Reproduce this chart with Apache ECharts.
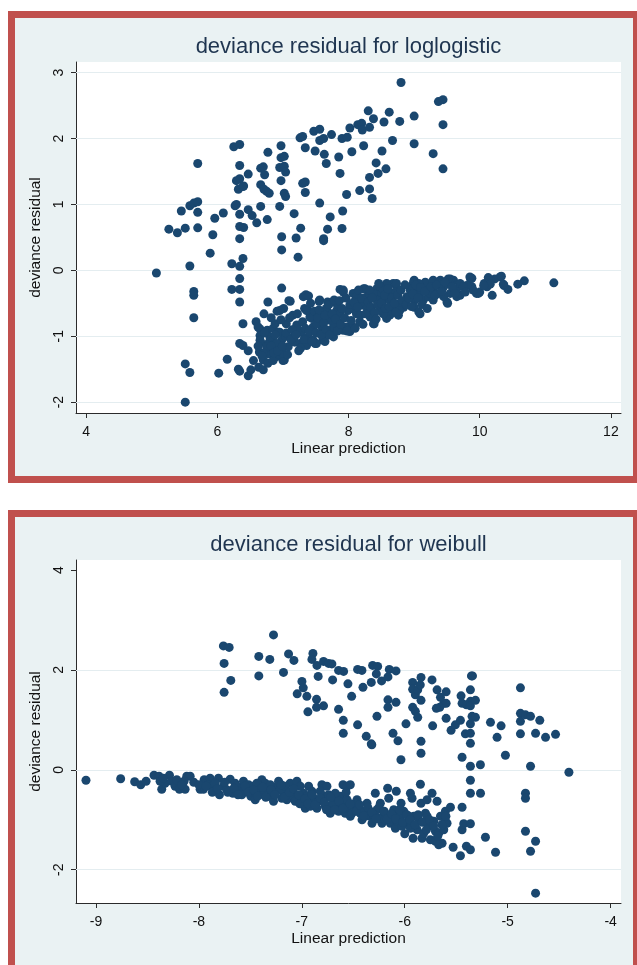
<!DOCTYPE html>
<html><head><meta charset="utf-8">
<script src="https://cdn.jsdelivr.net/npm/echarts@6/dist/echarts.min.js"></script>
<style>
html,body{margin:0;padding:0;width:637px;height:965px;overflow:hidden;background:#fff;}
.frame{position:absolute;box-sizing:border-box;border:7px solid #C0504D;background:#EAF2F3;}
#chart{position:absolute;left:0;top:0;width:637px;height:965px;}
</style></head><body>
<div class="frame" style="left:8px;top:11px;width:632px;height:472px"></div>
<div class="frame" style="left:8px;top:510px;width:632px;height:470px"></div>
<div id="chart"></div>
<script>
// ---------- data ----------
var topTitle = 'deviance residual for loglogistic';
var bottomTitle = 'deviance residual for weibull';
var xName = 'Linear prediction';
var yName = 'deviance residual';

var topXTicks = [4, 6, 8, 10, 12];
var topYTicks = [-2, -1, 0, 1, 2, 3];
var topGridY = [-2, -1, 0, 1, 2, 3];
var bottomXTicks = [-9, -8, -7, -6, -5, -4];
var bottomYTicks = [-2, 0, 2, 4];
var bottomGridY = [-2, 0, 2];

// loglogistic: scattered upper cloud and isolated points
var loglogUpper = [
[5.07,-0.04],[5.26,0.625],[5.39,0.57],[5.45,0.90],[5.51,0.64],[5.58,0.98],[5.64,1.02],[5.70,1.04],[5.70,0.88],[5.70,0.645],
[5.70,1.62],[5.58,0.065],[5.64,-0.32],[5.64,-0.38],[5.64,-0.72],[5.51,-1.42],[5.58,-1.55],[5.51,-2.0],[5.89,0.26],[5.93,0.54],
[5.96,0.79],[6.09,0.87],[6.15,-1.35],[6.02,-1.56],[6.22,0.10],[6.22,-0.29],[6.27,0.98],[6.29,1.0],[6.25,1.875],[6.34,1.91],
[6.29,1.36],[6.34,1.39],[6.34,1.59],[6.32,1.23],[6.39,1.27],[6.40,1.28],[6.34,0.85],[6.34,0.665],[6.40,0.65],[6.34,0.48],
[6.39,0.18],[6.34,0.06],[6.34,-0.125],[6.34,-0.29],[6.34,-0.48],[6.39,-0.81],[6.34,-1.11],[6.39,-1.14],[6.47,-1.22],[6.32,-1.50],
[6.34,-1.53],[6.47,-1.60],[6.51,-1.51],[6.47,1.46],[6.47,0.92],[6.53,0.83],[6.60,0.72],[6.66,0.97],[6.66,1.55],[6.70,1.57],
[6.72,1.45],[6.66,1.30],[6.71,1.23],[6.75,1.20],[6.79,1.17],[6.77,1.79],[6.76,0.77],[6.97,1.89],[6.97,1.71],[7.02,1.73],
[6.95,1.56],[7.02,1.58],[7.04,1.49],[6.97,1.36],[7.02,1.17],[7.04,1.12],[6.95,0.97],[6.98,0.51],[6.98,0.31],[6.98,-0.27],
[7.17,0.86],[7.20,0.49],[7.27,0.64],[7.23,0.20],[7.26,2.01],[7.30,2.03],[7.34,1.86],[7.30,1.32],[7.34,1.34],[7.34,1.18],
[7.47,2.11],[7.56,2.14],[7.49,1.81],[7.56,1.97],[7.63,1.76],[7.66,1.62],[7.62,2.00],[7.74,2.06],[7.56,1.02],[7.72,0.81],
[7.68,0.625],[7.62,0.48],[7.62,0.45],[7.85,1.72],[7.87,1.47],[7.90,2.00],[7.98,2.02],[7.91,0.90],[7.90,0.635],[7.97,1.15],
[8.02,2.16],[8.05,1.80],[8.14,2.21],[8.20,2.23],[8.21,2.13],[8.30,2.42],[8.32,2.17],[8.38,2.30],[8.23,1.89],[8.17,1.21],
[8.32,1.235],[8.32,1.41],[8.36,1.09],[8.42,1.63],[8.45,1.47],[8.51,1.81],[8.54,2.25],[8.62,2.40],[8.57,1.54],[8.67,1.97],
[8.78,2.26],[8.80,2.85],[9.00,2.34],[9.00,1.92],[9.29,1.77],[9.37,2.56],[9.44,2.59],[9.44,2.21],[9.44,1.54]
];
// loglogistic: dense lower band
var loglogBand = [
[6.63,-1.47],[6.70,-1.51],[6.77,-0.48],[6.71,-0.66],[6.59,-0.78],[6.65,-0.89],[6.65,-0.99],[6.66,-1.09],[6.64,-1.24],[6.70,-1.36],
[6.76,-0.91],[6.79,-1.09],[6.76,-1.21],[6.79,-1.27],[6.85,-0.88],[6.88,-0.81],[6.91,-0.62],[7.01,-0.58],[6.84,-1.02],[6.95,-0.94],
[6.98,-1.06],[6.95,-1.19],[6.90,-1.31],[7.00,-1.37],[7.08,-1.16],[7.04,-1.00],[7.11,-0.47],[7.15,-0.68],[7.21,-0.83],[7.28,-0.94],
[7.26,-1.11],[7.18,-1.09],[7.31,-0.40],[7.35,-0.37],[7.33,-0.58],[7.38,-0.61],[7.44,-0.73],[7.46,-0.86],[7.38,-1.01],[7.36,-1.14],
[7.55,-0.47],[7.56,-0.71],[7.59,-0.86],[7.61,-1.06],[7.51,-1.11],[7.66,-0.58],[7.69,-0.73],[7.74,-0.91],[7.77,-1.01],[7.87,-0.29],
[7.92,-0.33],[7.82,-0.61],[7.84,-0.78],[7.92,-0.91],[7.97,-0.86],[8.07,-0.35],[8.12,-0.40],[8.05,-0.58],[8.12,-0.66],[8.17,-0.78],
[8.07,-0.86],[8.25,-0.28],[8.28,-0.40],[8.23,-0.53],[8.30,-0.61],[8.35,-0.71],[8.38,-0.81],[8.43,-0.28],[8.48,-0.35],[8.53,-0.45],
[8.58,-0.23],[8.63,-0.35],[8.68,-0.20],[8.73,-0.30],[8.61,-0.66],[8.68,-0.61],[8.73,-0.56],
[11.13,-0.19],[10.68,-0.16],[10.58,-0.21],[10.43,-0.29],[10.37,-0.23],[10.31,-0.10],[10.23,-0.13],[10.16,-0.15],[10.19,-0.38],[10.11,-0.25],
[10.07,-0.20],[10.00,-0.33],[9.95,-0.35],[9.88,-0.25],[9.86,-0.13],[9.70,-0.38],[9.65,-0.28],[9.60,-0.15],[9.55,-0.13],[9.50,-0.20],
[9.45,-0.25],[9.50,-0.48],[9.37,-0.35],[9.29,-0.30],[9.19,-0.23],[9.17,-0.18],[9.29,-0.15],[9.40,-0.23],[9.00,-0.15],[8.94,-0.25],
[9.04,-0.30],[9.09,-0.35],[9.01,-0.45],[8.89,-0.40],[8.84,-0.56],[8.76,-0.51],[8.63,-0.68],[8.58,-0.73],[8.53,-0.66],[8.73,-0.20],
[8.58,-0.20],[8.48,-0.25],[9.00,-0.56],[9.09,-0.66],[9.14,-0.45],[9.22,-0.40],[9.29,-0.45],[9.55,-0.35],[9.65,-0.40],
[9.88,-0.12],[10.13,-0.11],[10.33,-0.09],[6.77,-1.41],[7.02,-1.36],[7.27,-1.18],[7.49,-1.11],[7.64,-1.08],[8.02,-0.93],[8.39,-0.81],
[8.76,-0.68],[9.07,-0.63],[9.51,-0.50],
[10.36,-0.21],[10.16,-0.21],[10.06,-0.23],[9.98,-0.35],[9.90,-0.30],[9.85,-0.10],[9.80,-0.23],[9.70,-0.20],[9.52,-0.13],[9.45,-0.40],
[9.40,-0.15],[9.24,-0.35],[9.07,-0.20],[8.99,-0.18],[8.94,-0.30],[8.78,-0.61],[8.68,-0.35],[8.63,-0.45],[8.53,-0.30],[8.48,-0.61],
[8.43,-0.45],[8.38,-0.35],[8.33,-0.71],[8.28,-0.56],[8.23,-0.28],[8.17,-0.51],[7.99,-0.61],[7.92,-0.30],[7.87,-0.66],[7.82,-0.51],
[7.77,-0.86],[7.72,-0.76],[7.67,-0.61],[7.61,-0.96],[7.56,-0.45],[7.51,-0.81],[7.46,-1.06],[7.41,-0.71],[7.36,-0.61],[7.21,-0.86],
[7.16,-1.01],[7.05,-0.81],[7.00,-1.26],[6.95,-0.61],[6.93,-0.94],[6.90,-1.11],[6.85,-1.37],[6.80,-1.01],[6.75,-1.16],[6.70,-1.26],
[6.65,-1.06],[6.62,-0.86],[6.55,-1.37],[7.68,-0.48],[7.39,-0.39],[7.09,-0.46],
[6.62,-1.15],[6.68,-1.30],[6.72,-0.95],[6.82,-1.15],[6.86,-1.25],[6.88,-0.98],[6.92,-1.22],[6.97,-0.75],[6.99,-1.15],[6.82,-0.72],
[7.05,-0.95],[7.07,-1.28],[7.10,-0.72],[7.12,-1.05],[7.14,-0.90],[7.20,-0.98],[7.22,-0.66],[7.24,-1.22],[7.30,-0.78],[7.32,-1.05],
[7.34,-0.88],[7.40,-0.92],[7.42,-0.50],[7.44,-1.08],[7.48,-0.62],[7.50,-0.95],
[7.53,-0.72],[7.55,-0.60],[7.58,-0.98],[7.62,-0.80],[7.64,-0.68],[7.66,-0.90],[7.70,-0.52],[7.71,-0.98],[7.75,-0.66],[7.78,-0.45],
[7.80,-0.74],[7.83,-0.92],[7.86,-0.46],[7.88,-0.82],[7.90,-0.58],[7.94,-0.72],[7.96,-0.42],[7.98,-0.92],
[8.02,-0.52],[8.04,-0.76],[8.08,-0.48],[8.10,-0.88],[8.14,-0.56],[8.15,-0.30],[8.18,-0.68],[8.20,-0.42],[8.22,-0.82],[8.26,-0.66],
[8.30,-0.48],[8.32,-0.30],[8.34,-0.56],[8.36,-0.42],[8.40,-0.64],[8.42,-0.74],[8.44,-0.52],[8.46,-0.20],
[8.50,-0.50],[8.55,-0.38],[8.56,-0.58],[8.60,-0.28],[8.62,-0.55],[8.66,-0.42],[8.70,-0.50],[8.72,-0.64],[8.75,-0.38],[8.80,-0.30],
[8.82,-0.46],[8.86,-0.22],[8.88,-0.52],[8.92,-0.42],[8.96,-0.55],[8.98,-0.36],
[9.02,-0.22],[9.06,-0.42],[9.10,-0.26],[9.12,-0.52],[9.16,-0.32],[9.20,-0.58],[9.26,-0.25],[9.32,-0.38],[9.34,-0.22],[9.42,-0.32],
[9.47,-0.18],[9.58,-0.25],[9.62,-0.35],[9.75,-0.25],[9.78,-0.33]
];

// weibull: scattered upper cloud and isolated points
var weibullUpper = [
[-7.275,2.70],[-7.762,2.48],[-7.706,2.45],[-7.755,2.13],[-7.690,1.79],[-7.755,1.55],[-7.418,2.27],[-7.418,1.88],[-7.311,2.21],[-7.178,1.95],
[-7.129,2.32],[-7.077,2.19],[-6.999,1.77],[-6.986,1.64],[-7.045,1.52],[-6.951,1.47],[-6.941,1.16],[-6.857,1.41],[-6.857,1.25],[-6.789,1.28],
[-6.892,2.33],[-6.902,2.21],[-6.853,2.09],[-6.789,2.17],[-6.740,2.13],[-6.708,2.12],[-6.841,1.87],[-6.701,1.80],[-6.643,1.99],[-6.594,1.97],
[-6.552,1.72],[-6.643,1.21],[-6.597,0.99],[-6.597,0.73],[-6.516,1.47],[-6.458,2.01],[-6.416,1.99],[-6.406,1.65],[-6.458,0.90],[-6.374,0.67],
[-6.325,0.52],[-6.320,0.50],[-6.325,1.75],[-6.270,1.07],[-6.312,2.09],[-6.263,2.07],[-6.276,1.92],[-6.225,1.78],[-6.163,1.86],[-6.150,2.01],
[-6.085,1.98],[-6.163,1.40],[-6.163,1.25],[-6.085,1.35],[-6.114,0.73],[-6.066,0.58],[-6.037,0.20],[-5.988,0.92],[-5.923,1.75],[-5.923,1.61],
[-5.897,1.50],[-5.874,1.60],[-5.849,1.70],[-5.842,1.85],[-5.842,1.39],[-5.923,1.25],[-5.897,1.17],[-5.874,1.05],[-5.842,0.57],[-5.842,0.33],
[-5.735,1.80],[-5.686,1.60],[-5.598,1.56],[-5.653,1.45],[-5.621,1.33],[-5.598,1.33],[-5.660,1.25],[-5.693,1.23],[-5.598,1.03],[-5.729,0.88],
[-5.550,0.79],[-5.508,0.90],[-5.459,0.99],[-5.453,1.48],[-5.443,1.33],[-5.401,1.30],[-5.362,1.37],[-5.362,1.28],[-5.362,1.60],[-5.352,1.88],
[-5.342,1.88],[-5.313,1.39],[-5.346,1.07],[-5.313,1.05],[-5.362,0.92],[-5.411,0.72],[-5.362,0.73],[-5.362,0.53],[-5.443,0.25],[-5.362,0.07],
[-5.265,0.10],[-5.167,0.95],[-5.064,0.88],[-5.103,0.65],[-5.022,0.29],[-4.876,1.64],[-4.876,1.13],[-4.876,0.97],[-4.876,0.72],[-4.827,1.10],
[-4.778,1.07],[-4.729,0.73],[-4.688,0.99],[-4.632,0.65],[-4.535,0.71],[-4.778,0.07],[-4.405,-0.05]
];
// weibull: dense lower band
var weibullBand = [
[-9.097,-0.21],[-8.760,-0.18],[-8.624,-0.24],[-8.565,-0.30],[-8.513,-0.23],[-8.436,-0.11],[-8.387,-0.13],[-8.361,-0.39],[-8.329,-0.27],[-8.286,-0.11],
[-8.264,-0.23],[-8.231,-0.33],[-8.189,-0.39],[-8.134,-0.39],[-8.118,-0.13],[-8.085,-0.13],[-8.144,-0.23],[-8.377,-0.23],[-8.215,-0.20],[-8.167,-0.30],
[-8.345,-0.17],[-7.988,-0.39],[-7.956,-0.39],[-7.949,-0.20],[-7.891,-0.17],[-7.858,-0.39],[-7.810,-0.17],[-7.800,-0.50],[-7.761,-0.33],[-7.696,-0.19],
[-7.670,-0.47],[-7.648,-0.27],[-7.599,-0.37],[-7.567,-0.23],[-7.534,-0.43],[-7.495,-0.53],[-7.469,-0.33],[-7.453,-0.60],[-7.421,-0.47],[-7.388,-0.20],
[-7.356,-0.27],[-7.340,-0.40],[-7.323,-0.53],[-7.275,-0.63],[-7.242,-0.33],[-7.226,-0.23],[-7.177,-0.47],[-7.145,-0.60],[-7.113,-0.27],[-7.080,-0.53],
[-7.048,-0.23],[-7.015,-0.33],[-6.983,-0.47],[-6.967,-0.77],[-6.934,-0.33],[-6.886,-0.57],[-6.853,-0.77],[-6.805,-0.30],[-6.788,-0.53],[-6.756,-0.33],
[-6.724,-0.87],[-6.691,-0.60],[-6.659,-0.73],[-6.626,-0.53],[-6.600,-0.30],[-6.561,-0.33],[-6.529,-0.30],[-6.578,-0.87],[-6.529,-0.93],[-6.497,-0.73],
[-6.464,-0.60],[-6.432,-0.87],[-6.415,-1.00],[-6.367,-0.67],[-6.334,-0.93],[-6.318,-1.07],[-6.286,-0.47],[-6.270,-0.80],[-6.237,-0.67],[-6.221,-1.07],
[-6.205,-0.90],[-6.166,-0.37],[-6.156,-0.57],[-6.140,-1.07],[-6.107,-0.80],[-6.091,-1.17],[-6.082,-0.43],[-6.059,-0.93],[-6.036,-0.67],[-6.010,-0.83],
[-6.000,-1.28],[-5.978,-1.07],[-5.945,-0.47],[-5.929,-0.57],[-5.913,-0.93],[-5.919,-1.37],[-5.880,-1.20],[-5.848,-0.29],[-5.842,-0.67],[-5.832,-1.37],
[-5.799,-0.87],[-5.783,-0.60],[-5.767,-1.13],[-5.735,-0.47],[-5.718,-1.03],[-5.702,-1.23],[-5.686,-0.63],[-5.670,-1.50],[-5.653,-0.93],[-5.637,-1.47],
[-5.605,-0.83],[-5.589,-1.07],[-5.556,-0.75],[-5.530,-1.55],[-5.459,-1.72],[-5.443,-0.75],[-5.443,-1.20],[-5.427,-1.08],[-5.362,-1.08],[-5.401,-1.53],
[-5.362,-1.60],[-5.362,-0.47],[-5.362,-0.21],[-5.264,-0.47],[-5.216,-1.35],[-5.118,-1.65],[-4.827,-0.47],[-4.827,-0.57],[-4.827,-1.23],[-4.778,-1.63],
[-4.729,-1.43],[-4.729,-2.47],
[-7.907,-0.30],[-7.842,-0.27],[-7.729,-0.40],[-7.632,-0.33],[-7.583,-0.50],[-7.518,-0.30],[-7.437,-0.27],[-7.405,-0.40],[-7.372,-0.50],[-7.307,-0.30],
[-7.291,-0.43],[-7.210,-0.40],[-7.194,-0.57],[-7.161,-0.33],[-7.096,-0.43],[-7.064,-0.63],[-7.000,-0.60],[-6.951,-0.53],[-6.918,-0.73],[-6.902,-0.43],
[-6.837,-0.63],[-6.821,-0.43],[-6.772,-0.73],[-6.740,-0.50],[-6.707,-0.70],[-6.675,-0.47],[-6.643,-0.83],[-6.610,-0.67],[-6.561,-0.60],[-6.545,-0.77],
[-6.513,-0.87],[-6.480,-0.67],[-6.448,-0.77],[-6.399,-0.83],[-6.383,-0.93],[-6.351,-0.80],[-6.302,-0.90],[-6.253,-0.97],[-6.189,-1.00],[-6.124,-0.93],
[-6.075,-1.03],[-6.043,-0.93],[-6.026,-1.13],[-5.961,-0.93],[-5.945,-1.17],[-5.864,-1.00],[-5.816,-1.27],[-5.783,-0.93],[-5.751,-1.40],[-5.670,-1.27],
[-5.621,-1.20],[-5.605,-1.03],[-5.702,-1.43],
[-8.05,-0.25],[-8.00,-0.30],[-7.93,-0.33],[-7.87,-0.45],[-7.82,-0.38],[-7.75,-0.25],[-7.72,-0.45],[-7.66,-0.37],[-7.62,-0.50],[-7.55,-0.33],
[-7.52,-0.45],[-7.47,-0.40],[-7.43,-0.53],[-7.38,-0.35],[-7.35,-0.55],[-7.30,-0.40],[-7.26,-0.50],[-7.20,-0.30],[-7.17,-0.55],[-7.12,-0.45],
[-7.08,-0.38],[-7.03,-0.50],[-7.02,-0.68],[-6.97,-0.58],[-6.94,-0.68],[-6.90,-0.50],[-6.87,-0.70],[-6.82,-0.57],[-6.78,-0.65],[-6.76,-0.80],
[-6.72,-0.55],[-6.68,-0.80],[-6.64,-0.63],[-6.60,-0.77],[-6.57,-0.45],[-6.53,-0.68],[-6.47,-0.83],[-6.44,-0.70],[-6.40,-0.92],[-6.36,-0.75],
[-6.32,-0.85],[-6.28,-0.98],[-6.25,-0.75],[-6.20,-0.83],[-6.17,-0.98],[-6.13,-0.88],[-6.09,-0.98],[-6.05,-0.80],[-6.02,-1.05],[-5.98,-0.90],
[-5.95,-1.00],[-5.90,-1.10],[-5.87,-0.90],[-5.83,-1.05],[-5.79,-1.20],[-5.76,-1.00],[-5.72,-1.12],[-5.68,-1.33],[-5.64,-1.10],[-5.60,-0.93]
];

// ---------- chart ----------
var FONT = '"Liberation Sans", Arial, Helvetica, sans-serif';
var DOT = '#1a476f';
var AXIS = '#2b2b2b';
var GRIDC = '#E4EDF0';

function xAxisCfg(gi, min, max, ticks) {
  return {
    type: 'value', gridIndex: gi, min: min, max: max,
    axisLine: { show: true, onZero: false, lineStyle: { color: AXIS, width: 1 } },
    axisTick: { show: true, customValues: ticks, length: 5, lineStyle: { color: AXIS } },
    axisLabel: { customValues: ticks, fontSize: 14, fontFamily: FONT, color: '#111', margin: 12 },
    splitLine: { show: false },
    name: xName, nameLocation: 'middle', nameGap: 28,
    nameTextStyle: { fontSize: 15.5, fontFamily: FONT, color: '#111' }
  };
}
function yAxisCfg(gi, min, max, ticks) {
  return {
    type: 'value', gridIndex: gi, min: min, max: max,
    axisLine: { show: true, onZero: false, lineStyle: { color: AXIS, width: 1 } },
    axisTick: { show: true, customValues: ticks, length: 5, lineStyle: { color: AXIS } },
    axisLabel: { customValues: ticks, fontSize: 14, fontFamily: FONT, color: '#111', rotate: 90, margin: 10 },
    splitLine: { show: false },
    name: yName, nameLocation: 'middle', nameGap: 28,
    nameTextStyle: { fontSize: 15.5, fontFamily: FONT, color: '#111' }
  };
}
function gridLines(xi, vals) {
  return {
    type: 'scatter', xAxisIndex: xi, yAxisIndex: xi, data: [], z: 1, silent: true,
    markLine: {
      z: 1, silent: true, symbol: ['none', 'none'], label: { show: false },
      lineStyle: { color: GRIDC, width: 1.2, type: 'solid' },
      emphasis: { disabled: true },
      data: vals.map(function (v) { return { yAxis: v }; })
    }
  };
}
function dots(xi, data) {
  return {
    type: 'scatter', xAxisIndex: xi, yAxisIndex: xi, data: data, z: 6,
    symbol: 'circle', symbolSize: 9,
    itemStyle: { color: DOT, opacity: 1 }, silent: true
  };
}

var chart = echarts.init(document.getElementById('chart'), null, { renderer: 'canvas' });
chart.setOption({
  animation: false,
  backgroundColor: 'transparent',
  textStyle: { fontFamily: FONT },
  grid: [
    { left: 76, top: 62, width: 545, height: 351, show: true, backgroundColor: '#ffffff', borderWidth: 0 },
    { left: 76, top: 560, width: 545, height: 343, show: true, backgroundColor: '#ffffff', borderWidth: 0 }
  ],
  xAxis: [ xAxisCfg(0, 3.844, 12.154, topXTicks), xAxisCfg(1, -9.194, -3.899, bottomXTicks) ],
  yAxis: [ yAxisCfg(0, -2.165, 3.161, topYTicks), yAxisCfg(1, -2.667, 4.2, bottomYTicks) ],
  graphic: [
    { type: 'text', x: 348.5, y: 47, silent: true,
      style: { text: topTitle, fill: '#1f3550', font: '22px ' + FONT, textAlign: 'center', textVerticalAlign: 'middle' } },
    { type: 'text', x: 348.5, y: 545, silent: true,
      style: { text: bottomTitle, fill: '#1f3550', font: '22px ' + FONT, textAlign: 'center', textVerticalAlign: 'middle' } }
  ],
  series: [
    gridLines(0, topGridY),
    gridLines(1, bottomGridY),
    dots(0, loglogBand), dots(0, loglogUpper),
    dots(1, weibullBand), dots(1, weibullUpper)
  ]
});
</script></body></html>
